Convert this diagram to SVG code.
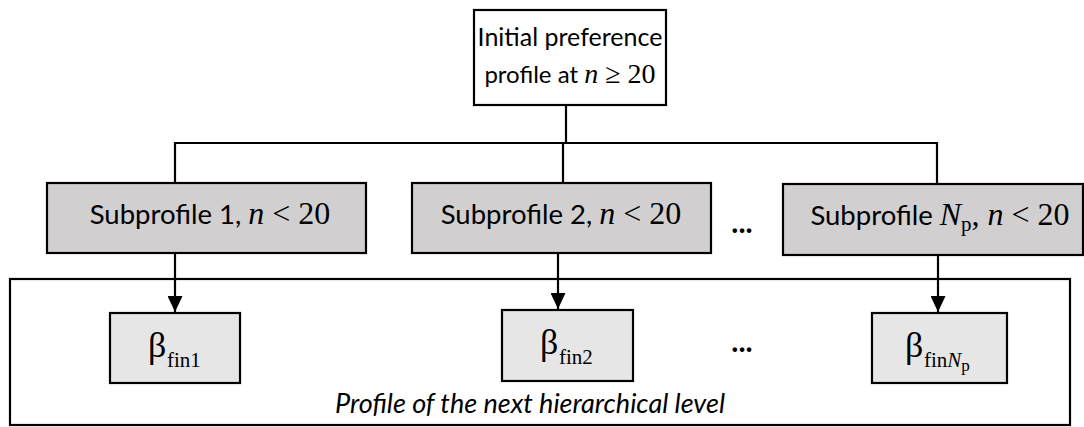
<svg xmlns="http://www.w3.org/2000/svg" width="1084" height="427" viewBox="0 0 1084 427">
  <defs>
    <marker id="arrow" viewBox="0 0 16 15" refX="16" refY="7.5" markerWidth="16" markerHeight="15" markerUnits="userSpaceOnUse" orient="auto">
      <path d="M0,0 L16,7.5 L0,15 Z" fill="#000"/>
    </marker>
    <style>
      .box { stroke: #000; stroke-width: 2.2; }
      .top { fill: #fff; }
      .sub { fill: #d1cfd0; }
      .beta { fill: #e6e6e6; }
      .frame { fill: none; stroke: #000; stroke-width: 2.2; }
      .wire { fill: none; stroke: #000; stroke-width: 2.2; }
      .lbl { font-family: Lato, "Open Sans", sans-serif; font-size: 25px; fill: #000; }
      .lbl-s { font-family: Lato, "Open Sans", sans-serif; font-size: 24px; fill: #000; }
      .lbl2 { font-family: Lato, "Open Sans", sans-serif; font-size: 27.5px; fill: #000; }
      .math { font-family: "Liberation Serif", serif; font-size: 32px; }
      .math-s { font-family: "Liberation Serif", serif; font-size: 28px; }
      .it { font-style: italic; }
      .greek { font-family: "Liberation Serif", serif; font-size: 36px; fill: #000; }
      .subs { font-family: "Liberation Serif", serif; font-size: 21px; fill: #000; }
      .dots { font-family: Lato, "Open Sans", sans-serif; font-size: 30px; font-weight: bold; fill: #000; }
      .note { font-family: Lato, "Open Sans", sans-serif; font-size: 27px; font-style: italic; fill: #000; }
    </style>
  </defs>

  <!-- frame of the next hierarchical level -->
  <g id="next-level">
    <rect class="frame" x="10" y="279" width="1060" height="146"/>
    <text class="note" x="530" y="413" text-anchor="middle">Profile of the next hierarchical level</text>
  </g>

  <!-- tree connectors -->
  <g id="connectors">
    <path class="wire" d="M566,105 V143 M175,183 V143 H937 V184 M563,143 V183"/>
    <line class="wire" x1="175" y1="253" x2="175" y2="312" marker-end="url(#arrow)"/>
    <line class="wire" x1="558" y1="253" x2="558" y2="309" marker-end="url(#arrow)"/>
    <line class="wire" x1="938" y1="255" x2="938" y2="312" marker-end="url(#arrow)"/>
  </g>

  <g id="root">
    <rect class="box top" x="474" y="10" width="192" height="95"/>
    <text class="lbl" x="570" y="46" text-anchor="middle">Initial preference</text>
    <text class="lbl-s" x="570" y="83" text-anchor="middle">profile at <tspan class="math-s it">n</tspan><tspan class="math-s"> ≥ 20</tspan></text>
  </g>

  <g id="sub1">
    <rect class="box sub" x="47" y="183" width="319" height="70"/>
    <text class="lbl2" x="210" y="224" text-anchor="middle">Subprofile 1, <tspan class="math it">n</tspan><tspan class="math"> &lt; 20</tspan></text>
  </g>

  <g id="sub2">
    <rect class="box sub" x="412" y="183" width="299" height="70"/>
    <text class="lbl2" x="561" y="224" text-anchor="middle">Subprofile 2, <tspan class="math it">n</tspan><tspan class="math"> &lt; 20</tspan></text>
  </g>

  <g id="dots-top">
    <text class="dots" x="742" y="233" text-anchor="middle">...</text>
  </g>

  <g id="subNp">
    <rect class="box sub" x="783" y="184" width="300" height="71"/>
    <text class="lbl2" x="940" y="225" text-anchor="middle">Subprofile <tspan class="math it">N</tspan><tspan class="math" style="font-size:21px" dy="6">p</tspan><tspan class="math" dy="-6">, </tspan><tspan class="math it">n</tspan><tspan class="math"> &lt; 20</tspan></text>
  </g>

  <g id="beta1">
    <rect class="box beta" x="110" y="313" width="130" height="70"/>
    <text class="greek" x="148" y="357">β</text>
    <text class="subs" x="167" y="367">fin1</text>
  </g>

  <g id="beta2">
    <rect class="box beta" x="502" y="310" width="131" height="71"/>
    <text class="greek" x="540" y="354">β</text>
    <text class="subs" x="559" y="364">fin2</text>
  </g>

  <g id="dots-bottom">
    <text class="dots" x="742" y="352" text-anchor="middle">...</text>
  </g>

  <g id="betaNp">
    <rect class="box beta" x="872" y="313" width="135" height="70"/>
    <text class="greek" x="905" y="357">β</text>
    <text class="subs" x="924" y="367">fin<tspan class="it">N</tspan><tspan style="font-size:17px" dy="4">p</tspan></text>
  </g>
</svg>
